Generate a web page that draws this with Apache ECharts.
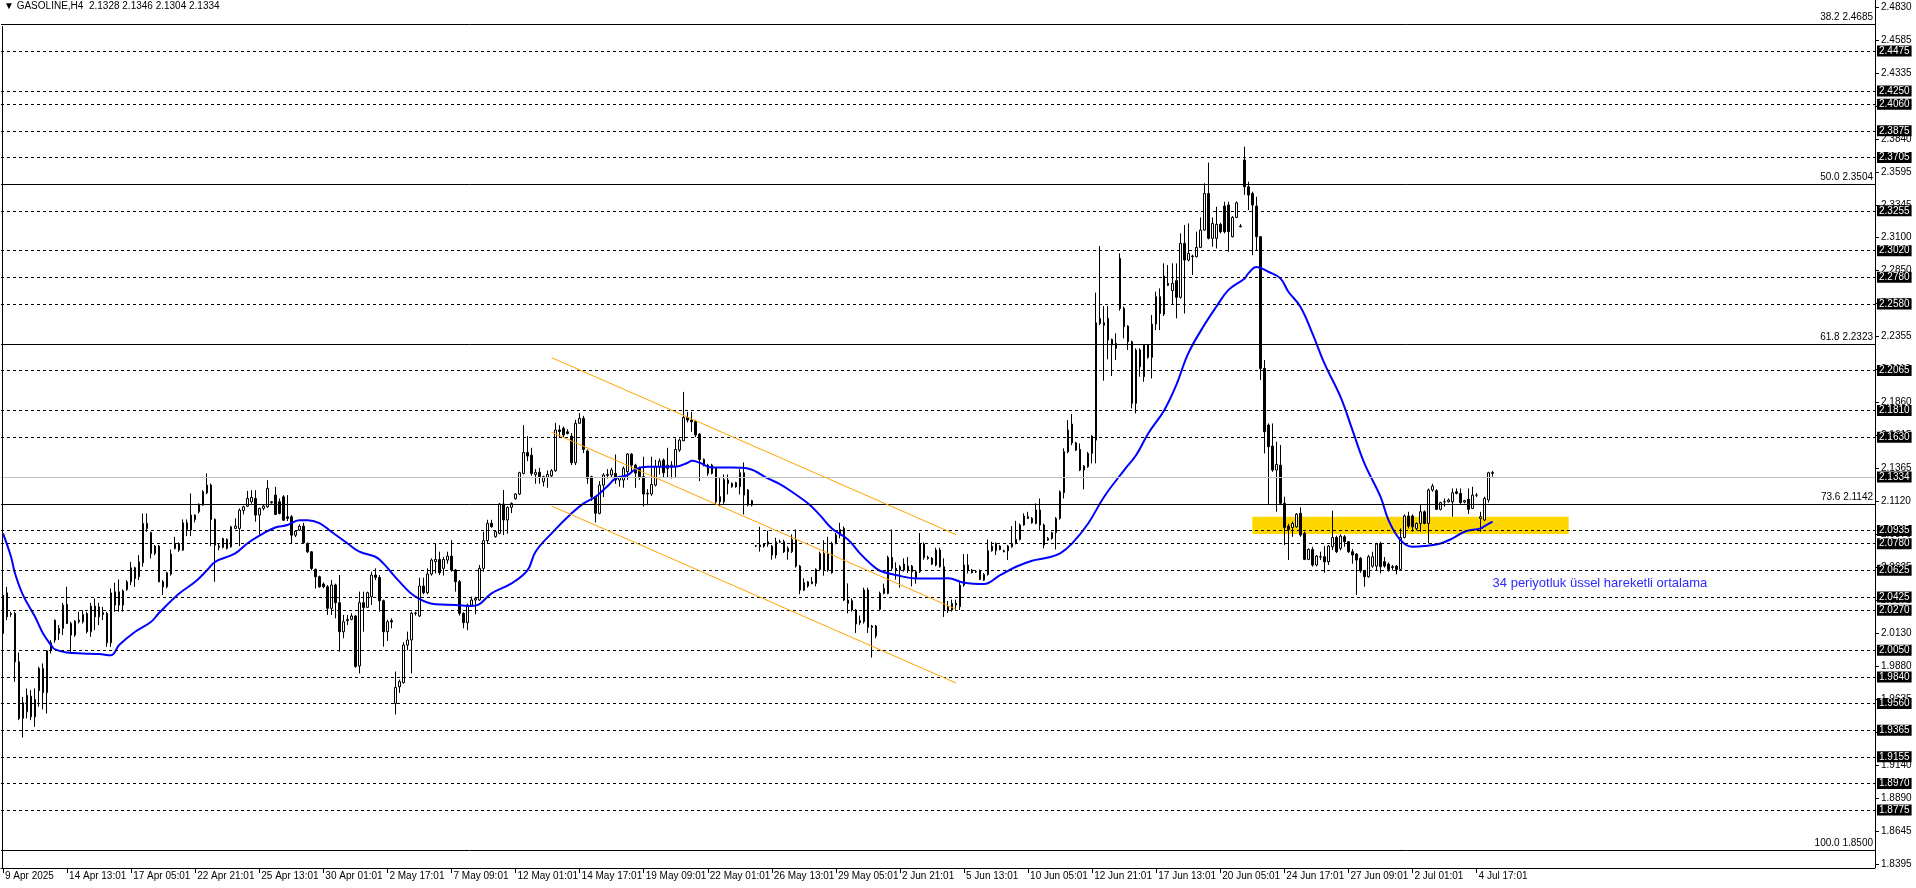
<!DOCTYPE html>
<html><head><meta charset="utf-8">
<script src="https://cdn.jsdelivr.net/npm/echarts@6/dist/echarts.min.js"></script>
<style>html,body{margin:0;padding:0;background:#fff;overflow:hidden}#c{width:1916px;height:888px}</style>
</head><body><div id="c"></div>
<script>
// [open, high, low, close] per H4 bar
const OHLC = [
[2.0126,2.0552,2.0101,2.0414],[2.0431,2.0476,2.0226,2.0251],[2.0269,2.0289,2.0251,2.0276],[2.0276,2.0289,1.9763,1.9913],
[1.9913,1.9983,1.9475,1.9488],[1.9488,1.9650,1.9345,1.9606],[1.9538,1.9713,1.9488,1.9662],[1.9655,1.9700,1.9475,1.9500],
[1.9500,1.9713,1.9425,1.9631],[1.9696,1.9876,1.9576,1.9863],[1.9681,1.9901,1.9556,1.9863],[1.9681,2.0001,1.9525,1.9996],
[2.0001,2.0076,1.9976,2.0056],[2.0076,2.0231,2.0056,2.0226],[2.0126,2.0189,2.0076,2.0164],[2.0164,2.0356,2.0114,2.0339],
[2.0344,2.0476,2.0196,2.0201],[2.0201,2.0214,1.9983,2.0114],[2.0114,2.0226,2.0101,2.0219],[2.0214,2.0289,2.0201,2.0226],
[2.0214,2.0300,2.0201,2.0269],[2.0276,2.0289,2.0126,2.0139],[2.0139,2.0356,2.0101,2.0331],[2.0331,2.0389,2.0151,2.0251],
[2.0251,2.0356,2.0189,2.0326],[2.0281,2.0326,2.0226,2.0269],[2.0276,2.0289,2.0026,2.0056],[2.0056,2.0464,2.0026,2.0431],
[2.0339,2.0507,2.0289,2.0439],[2.0439,2.0532,2.0289,2.0339],[2.0339,2.0456,2.0289,2.0446],[2.0456,2.0527,2.0446,2.0514],
[2.0514,2.0664,2.0489,2.0619],[2.0619,2.0627,2.0476,2.0539],[2.0552,2.0714,2.0527,2.0664],[2.0657,2.1027,2.0627,2.0952],
[2.0952,2.1027,2.0890,2.0915],[2.0884,2.0890,2.0689,2.0727],[2.0727,2.0790,2.0714,2.0782],[2.0782,2.0790,2.0510,2.0514],
[2.0514,2.0527,2.0414,2.0476],[2.0476,2.0590,2.0464,2.0582],[2.0572,2.0757,2.0560,2.0722],[2.0764,2.0852,2.0757,2.0802],
[2.0802,2.0810,2.0739,2.0752],[2.0752,2.0982,2.0745,2.0957],[2.0957,2.0982,2.0857,2.0907],[2.0902,2.1177,2.0857,2.1015],
[2.1015,2.1020,2.0960,2.0982],[2.1040,2.1102,2.1027,2.1097],[2.1090,2.1202,2.1085,2.1190],[2.1182,2.1328,2.1172,2.1240],
[2.1240,2.1252,2.0782,2.0982],[2.0982,2.0990,2.0514,2.0789],[2.0772,2.0800,2.0750,2.0782],[2.0772,2.0845,2.0765,2.0839],
[2.0832,2.0840,2.0757,2.0764],[2.0777,2.0935,2.0770,2.0927],[2.0915,2.0990,2.0910,2.0932],[2.0915,2.1065,2.0782,2.1052],
[2.1050,2.1085,2.1020,2.1077],[2.1082,2.1197,2.1075,2.1140],[2.1115,2.1202,2.1100,2.1147],[2.1140,2.1202,2.0965,2.1015],
[2.1015,2.1070,2.0870,2.1065],[2.1065,2.1090,2.1050,2.1082],[2.1077,2.1277,2.1070,2.1215],[2.1115,2.1120,2.1100,2.1108],
[2.1165,2.1227,2.1015,2.1020],[2.1115,2.1140,2.1020,2.1027],[2.1152,2.1165,2.0970,2.0977],[2.1002,2.1165,2.0970,2.0990],
[2.1002,2.1015,2.0797,2.0864],[2.0864,2.0900,2.0850,2.0894],[2.0902,2.0945,2.0895,2.0932],[2.0932,2.0957,2.0800,2.0807],
[2.0802,2.0810,2.0730,2.0739],[2.0739,2.0745,2.0600,2.0614],[2.0607,2.0614,2.0464,2.0552],[2.0552,2.0560,2.0470,2.0476],
[2.0497,2.0510,2.0465,2.0477],[2.0477,2.0490,2.0265,2.0315],[2.0315,2.0527,2.0265,2.0490],[2.0490,2.0500,2.0240,2.0357],
[2.0357,2.0565,1.9990,2.0139],[2.0139,2.0265,2.0090,2.0214],[2.0222,2.0265,2.0190,2.0232],[2.0232,2.0277,2.0225,2.0257],
[2.0257,2.0265,1.9870,1.9877],[1.9882,2.0440,1.9826,2.0357],[2.0357,2.0440,2.0140,2.0320],[2.0322,2.0440,2.0320,2.0432],
[2.0402,2.0590,2.0340,2.0565],[2.0565,2.0615,2.0527,2.0547],[2.0547,2.0565,2.0290,2.0372],[2.0372,2.0380,2.0027,2.0139],
[2.0139,2.0230,2.0070,2.0214],[2.0222,2.0240,2.0165,2.0212],[1.9601,1.9840,1.9518,1.9721],[1.9726,1.9780,1.9680,1.9764],
[1.9756,2.0060,1.9750,2.0039],[2.0039,2.0140,2.0000,2.0077],[2.0077,2.0290,1.9826,2.0277],[2.0280,2.0290,2.0260,2.0277],
[2.0257,2.0545,2.0250,2.0482],[2.0482,2.0545,2.0420,2.0432],[2.0432,2.0615,2.0420,2.0572],[2.0572,2.0690,2.0560,2.0677],
[2.0665,2.0802,2.0577,2.0682],[2.0682,2.0740,2.0565,2.0582],[2.0615,2.0700,2.0560,2.0682],[2.0677,2.0740,2.0650,2.0707],
[2.0707,2.0827,2.0590,2.0602],[2.0602,2.0610,2.0440,2.0515],[2.0515,2.0527,2.0260,2.0277],[2.0277,2.0285,2.0165,2.0207],
[2.0207,2.0350,2.0150,2.0340],[2.0340,2.0402,2.0327,2.0377],[2.0377,2.0402,2.0270,2.0390],[2.0377,2.0640,2.0370,2.0615],
[2.0615,2.0890,2.0590,2.0823],[2.0823,2.0980,2.0800,2.0953],[2.0953,2.0980,2.0920,2.0928],[2.0853,2.0900,2.0845,2.0890],
[2.0878,2.1105,2.0870,2.1098],[2.1098,2.1203,2.0865,2.0978],[2.0978,2.1080,2.0875,2.1073],[2.1073,2.1110,2.1030,2.1103],
[2.1138,2.1180,2.1130,2.1173],[2.1173,2.1340,2.1165,2.1333],[2.1328,2.1690,2.1320,2.1485],[2.1485,2.1608,2.1420,2.1458],
[2.1465,2.1520,2.1310,2.1328],[2.1320,2.1360,2.1250,2.1336],[2.1336,2.1370,2.1250,2.1303],[2.1266,2.1310,2.1230,2.1303],
[2.1298,2.1350,2.1220,2.1320],[2.1310,2.1360,2.1300,2.1348],[2.1348,2.1708,2.1340,2.1654],[2.1654,2.1690,2.1600,2.1642],
[2.1666,2.1680,2.1600,2.1616],[2.1640,2.1660,2.1620,2.1628],[2.1608,2.1630,2.1390,2.1408],[2.1408,2.1730,2.1390,2.1704],
[2.1704,2.1780,2.1700,2.1741],[2.1741,2.1760,2.1480,2.1508],[2.1496,2.1508,2.1250,2.1291],[2.1303,2.1310,2.1120,2.1153],
[2.1153,2.1160,2.0960,2.1028],[2.1028,2.1270,2.1020,2.1240],[2.1240,2.1330,2.1150,2.1316],[2.1320,2.1360,2.1290,2.1314],
[2.1316,2.1370,2.1300,2.1353],[2.1328,2.1470,2.1250,2.1278],[2.1278,2.1310,2.1228,2.1298],[2.1278,2.1380,2.1220,2.1366],
[2.1340,2.1480,2.1280,2.1473],[2.1473,2.1480,2.1330,2.1390],[2.1390,2.1400,2.1220,2.1330],[2.1365,2.1380,2.1280,2.1303],
[2.1303,2.1453,2.1080,2.1173],[2.1178,2.1210,2.1090,2.1173],[2.1173,2.1453,2.1160,2.1245],[2.1240,2.1430,2.1230,2.1378],
[2.1378,2.1440,2.1320,2.1420],[2.1428,2.1440,2.1300,2.1333],[2.1365,2.1520,2.1300,2.1390],[2.1378,2.1420,2.1290,2.1390],
[2.1378,2.1590,2.1300,2.1508],[2.1503,2.1590,2.1490,2.1578],[2.1573,2.1940,2.1570,2.1748],[2.1748,2.1790,2.1710,2.1728],
[2.1728,2.1790,2.1640,2.1716],[2.1716,2.1730,2.1600,2.1616],[2.1623,2.1630,2.1270,2.1433],[2.1433,2.1440,2.1380,2.1390],
[2.1390,2.1400,2.1310,2.1328],[2.1328,2.1400,2.1320,2.1390],[2.1365,2.1370,2.1090,2.1115],[2.1153,2.1300,2.1080,2.1115],
[2.1115,2.1320,2.1100,2.1283],[2.1278,2.1320,2.1170,2.1253],[2.1228,2.1260,2.1220,2.1253],[2.1258,2.1265,2.1220,2.1228],
[2.1228,2.1360,2.1170,2.1333],[2.1333,2.1410,2.1020,2.1165],[2.1203,2.1210,2.1080,2.1090],[2.1090,2.1130,2.1080,2.1123],
[2.0782,2.0790,2.0775,2.0785],[2.0790,2.0927,2.0740,2.0777],[2.0800,2.0805,2.0770,2.0782],[2.0797,2.0897,2.0777,2.0815],
[2.0782,2.0790,2.0680,2.0715],[2.0715,2.0845,2.0690,2.0815],[2.0815,2.0830,2.0805,2.0812],[2.0815,2.0830,2.0730,2.0740],
[2.0740,2.0780,2.0680,2.0765],[2.0740,2.0870,2.0730,2.0832],[2.0832,2.0907,2.0620,2.0632],[2.0632,2.0640,2.0420,2.0452],
[2.0452,2.0540,2.0445,2.0507],[2.0482,2.0520,2.0470,2.0514],[2.0514,2.0550,2.0495,2.0502],[2.0502,2.0615,2.0480,2.0607],
[2.0607,2.0740,2.0600,2.0727],[2.0602,2.0827,2.0560,2.0727],[2.0727,2.0852,2.0590,2.0602],[2.0582,2.0815,2.0575,2.0802],
[2.0802,2.0880,2.0795,2.0865],[2.0865,2.0957,2.0840,2.0907],[2.0915,2.0930,2.0370,2.0377],[2.0377,2.0502,2.0277,2.0352],
[2.0372,2.0390,2.0290,2.0302],[2.0302,2.0310,2.0130,2.0197],[2.0222,2.0260,2.0190,2.0207],[2.0214,2.0470,2.0200,2.0452],
[2.0452,2.0470,2.0130,2.0172],[2.0182,2.0190,1.9946,2.0172],[2.0182,2.0190,2.0090,2.0107],[2.0307,2.0440,2.0300,2.0427],
[2.0427,2.0500,2.0420,2.0464],[2.0427,2.0710,2.0420,2.0697],[2.0697,2.0907,2.0600,2.0615],[2.0615,2.0660,2.0530,2.0602],
[2.0602,2.0640,2.0470,2.0627],[2.0647,2.0690,2.0590,2.0602],[2.0602,2.0700,2.0580,2.0632],[2.0632,2.0640,2.0480,2.0590],
[2.0540,2.0600,2.0500,2.0590],[2.0590,2.0880,2.0580,2.0797],[2.0797,2.0810,2.0680,2.0697],[2.0697,2.0710,2.0680,2.0690],
[2.0690,2.0700,2.0640,2.0647],[2.0640,2.0770,2.0630,2.0752],[2.0752,2.0770,2.0620,2.0627],[2.0627,2.0690,2.0250,2.0297],
[2.0297,2.0370,2.0280,2.0327],[2.0302,2.0380,2.0290,2.0352],[2.0352,2.0380,2.0300,2.0340],[2.0327,2.0514,2.0302,2.0489],
[2.0489,2.0722,2.0477,2.0640],[2.0640,2.0722,2.0577,2.0602],[2.0602,2.0610,2.0577,2.0582],[2.0590,2.0600,2.0580,2.0588],
[2.0597,2.0605,2.0527,2.0532],[2.0527,2.0580,2.0520,2.0569],[2.0569,2.0832,2.0560,2.0747],[2.0747,2.0815,2.0740,2.0782],
[2.0747,2.0810,2.0715,2.0802],[2.0782,2.0790,2.0750,2.0757],[2.0747,2.0755,2.0735,2.0740],[2.0747,2.0790,2.0677,2.0782],
[2.0777,2.0932,2.0770,2.0802],[2.0802,2.0972,2.0795,2.0832],[2.0832,2.0952,2.0825,2.0940],[2.0940,2.1028,2.0935,2.1008],
[2.1003,2.1040,2.0985,2.0990],[2.0990,2.1000,2.0950,2.0958],[2.0952,2.1103,2.0945,2.1053],[2.1053,2.1140,2.0902,2.0940],
[2.0940,2.0950,2.0765,2.0790],[2.0827,2.0850,2.0820,2.0840],[2.0840,2.0890,2.0830,2.0882],[2.0882,2.1000,2.0757,2.0990],
[2.0990,2.1200,2.0980,2.1190],[2.1183,2.1516,2.1140,2.1491],[2.1491,2.1728,2.1480,2.1653],[2.1698,2.1773,2.1540,2.1558],
[2.1558,2.1565,2.1495,2.1503],[2.1508,2.1553,2.1345,2.1353],[2.1353,2.1390,2.1208,2.1383],[2.1378,2.1490,2.1370,2.1478],
[2.1478,2.1615,2.1403,2.1608],[2.1578,2.2685,2.1403,2.2459],[2.2454,2.3035,2.2442,2.2492],[2.2459,2.2584,2.2024,2.2440],
[2.2492,2.2584,2.2184,2.2329],[2.2334,2.2340,2.2059,2.2292],[2.2304,2.2379,2.2179,2.2267],[2.2942,2.2980,2.2550,2.2567],
[2.2567,2.2580,2.2342,2.2429],[2.2434,2.2440,2.2254,2.2317],[2.2317,2.2325,2.1816,2.1854],[2.1854,2.2267,2.1778,2.2254],
[2.2254,2.2267,2.2054,2.2129],[2.2054,2.2300,2.2016,2.2292],[2.2292,2.2300,2.2190,2.2199],[2.2199,2.2517,2.2041,2.2449],
[2.2449,2.2692,2.2404,2.2655],[2.2655,2.2717,2.2404,2.2529],[2.2524,2.2905,2.2510,2.2810],[2.2755,2.2892,2.2735,2.2740],
[2.2700,2.2905,2.2600,2.2755],[2.2775,2.2905,2.2492,2.2650],[2.2650,2.3130,2.2640,2.3055],[2.3055,2.3193,2.2529,2.2930],
[2.2930,2.3205,2.2920,2.2980],[2.2955,2.2970,2.2817,2.2960],[2.2955,2.3143,2.2950,2.3025],[2.3025,2.3250,2.3020,2.3155],
[2.3155,2.3506,2.3150,2.3430],[2.3430,2.3661,2.3085,2.3093],[2.3093,2.3250,2.3030,2.3205],[2.3093,2.3330,2.3017,2.3198],
[2.3198,2.3210,2.3130,2.3143],[2.3335,2.3368,2.3130,2.3143],[2.3343,2.3368,2.2992,2.3143],[2.3105,2.3260,2.3100,2.3250],
[2.3250,2.3370,2.3245,2.3360],[2.3180,2.3200,2.3175,2.3185],[2.3681,2.3781,2.3420,2.3480],[2.3480,2.3518,2.3305,2.3418],
[2.3430,2.3443,2.2967,2.3343],[2.3335,2.3405,2.3005,2.3105],[2.3105,2.3110,2.2029,2.2116],[2.2116,2.2179,2.1478,2.1641],
[2.1691,2.1703,2.1090,2.1528],[2.1533,2.1703,2.1340,2.1353],[2.1353,2.1566,2.1040,2.1395],[2.1390,2.1541,2.1090,2.1103],
[2.1103,2.1153,2.0790,2.0922],[2.0932,2.0950,2.0677,2.0907],[2.0922,2.0965,2.0852,2.0952],[2.0927,2.1030,2.0920,2.1022],
[2.1028,2.1073,2.0852,2.0865],[2.0877,2.0890,2.0677,2.0682],[2.0682,2.0765,2.0677,2.0757],[2.0757,2.0777,2.0627,2.0640],
[2.0640,2.0715,2.0630,2.0707],[2.0702,2.0740,2.0677,2.0700],[2.0702,2.0782,2.0582,2.0664],[2.0664,2.0790,2.0640,2.0782],
[2.0777,2.1048,2.0752,2.0847],[2.0847,2.0860,2.0730,2.0740],[2.0765,2.0870,2.0750,2.0857],[2.0852,2.0865,2.0777,2.0815],
[2.0815,2.0820,2.0730,2.0740],[2.0740,2.0760,2.0650,2.0715],[2.0722,2.0730,2.0414,2.0677],[2.0690,2.0700,2.0582,2.0597],
[2.0597,2.0600,2.0477,2.0552],[2.0552,2.0715,2.0545,2.0702],[2.0632,2.0740,2.0620,2.0702],[2.0632,2.0807,2.0602,2.0797],
[2.0802,2.0815,2.0577,2.0627],[2.0665,2.0700,2.0620,2.0632],[2.0647,2.0660,2.0590,2.0607],[2.0627,2.0640,2.0600,2.0622],
[2.0632,2.0640,2.0570,2.0607],[2.0607,2.0915,2.0602,2.0847],[2.0847,2.1020,2.0840,2.1008],[2.1008,2.1040,2.0915,2.0932],
[2.1008,2.1020,2.0890,2.0927],[2.0915,2.0960,2.0900,2.0952],[2.0952,2.1090,2.0890,2.1040],[2.1040,2.1050,2.0945,2.0952],
[2.0952,2.1215,2.0802,2.1203],[2.1203,2.1250,2.1190,2.1233],[2.1198,2.1210,2.1053,2.1058],[2.1058,2.1115,2.1050,2.1108],
[2.1115,2.1140,2.1078,2.1115],[2.1115,2.1140,2.1110,2.1128],[2.1115,2.1215,2.1003,2.1183],[2.1190,2.1215,2.1170,2.1178],
[2.1178,2.1215,2.1100,2.1108],[2.1113,2.1130,2.1103,2.1123],[2.1133,2.1215,2.1023,2.1058],[2.1065,2.1228,2.1060,2.1165],
[2.1165,2.1180,2.1150,2.1165],[2.0990,2.1040,2.0890,2.1003],[2.0978,2.1153,2.0970,2.1140],[2.1128,2.1340,2.1108,2.1333],
[2.1328,2.1346,2.1304,2.1334]
];
// EMA(34): [bar index, value]
const EMA34 = [
[0,2.0877],[2,2.0702],[3,2.0577],[5,2.0414],[8,2.0251],[10,2.0126],[12,2.0039],[13,2.0006],[16,1.9983],[20,1.9976],
[24,1.9971],[27,1.9963],[29,2.0039],[33,2.0139],[37,2.0214],[39,2.0281],[44,2.0426],[48,2.0514],[51,2.0602],[53,2.0664],
[58,2.0727],[61,2.0802],[65,2.0877],[68,2.0922],[71,2.0940],[74,2.0977],[76,2.0977],[79,2.0955],[82,2.0890],[86,2.0803],
[89,2.0740],[93,2.0702],[95,2.0652],[99,2.0515],[103,2.0402],[108,2.0345],[113,2.0340],[117,2.0332],[119,2.0347],[122,2.0427],
[127,2.0502],[131,2.0602],[133,2.0740],[137,2.0878],[142,2.1028],[145,2.1103],[148,2.1153],[151,2.1233],[153,2.1291],[156,2.1316],
[158,2.1360],[161,2.1378],[168,2.1378],[171,2.1408],[172,2.1423],[174,2.1408],[177,2.1373],[182,2.1373],[186,2.1365],[191,2.1290],
[194,2.1248],[197,2.1190],[201,2.1103],[204,2.1015],[207,2.0915],[211,2.0832],[214,2.0727],[217,2.0640],[219,2.0597],[223,2.0565],
[228,2.0539],[232,2.0539],[236,2.0540],[240,2.0507],[245,2.0497],[249,2.0564],[253,2.0627],[257,2.0672],[261,2.0697],[264,2.0727],
[267,2.0802],[271,2.0952],[275,2.1153],[280,2.1353],[283,2.1466],[286,2.1628],[290,2.1803],[293,2.1991],[296,2.2229],[300,2.2442],
[303,2.2579],[306,2.2704],[310,2.2790],[311,2.2830],[313,2.2878],[316,2.2842],[319,2.2792],[321,2.2692],[324,2.2579],[327,2.2379],
[330,2.2154],[334,2.1904],[337,2.1653],[340,2.1403],[344,2.1153],[346,2.0978],[349,2.0827],[352,2.0777],[355,2.0782],[359,2.0802],
[362,2.0840],[365,2.0890],[369,2.0915],[370,2.0932],[372,2.0965]
];
const X_TICKS = [[0,'9 Apr 2025'],[16,'14 Apr 13:01'],[32,'17 Apr 05:01'],[48,'22 Apr 21:01'],[64,'25 Apr 13:01'],
[80,'30 Apr 01:01'],[96,'2 May 17:01'],[112,'7 May 09:01'],[128,'12 May 01:01'],[144,'14 May 17:01'],[160,'19 May 09:01'],
[176,'22 May 01:01'],[192,'26 May 13:01'],[208,'29 May 05:01'],[224,'2 Jun 21:01'],[240,'5 Jun 13:01'],[256,'10 Jun 05:01'],
[272,'12 Jun 21:01'],[288,'17 Jun 13:01'],[304,'20 Jun 05:01'],[320,'24 Jun 17:01'],[336,'27 Jun 09:01'],[352,'2 Jul 01:01'],
[368,'4 Jul 17:01']];
const Y_TICK_LABELS = ['1.8395','1.8645','1.8890','1.9140','1.9390','1.9635','1.9880','2.0130','2.0375','2.0625','2.0870',
'2.1120','2.1365','2.1615','2.1860','2.2110','2.2355','2.2605','2.2850','2.3100','2.3345','2.3595','2.3840','2.4090',
'2.4335','2.4585','2.4830'];
const Y_MIN = 1.8395, Y_MAX = 2.4830, Y_STEP = 0.02475;
const H_LEVELS = ['2.4475','2.4250','2.4060','2.3875','2.3705','2.3255','2.3020','2.2780','2.2580','2.2065','2.1810',
'2.1630','2.0935','2.0780','2.0625','2.0425','2.0270','2.0050','1.9840','1.9560','1.9365','1.9155','1.8970','1.8775'];
const FIB_LEVELS = [['38.2','2.4685'],['50.0','2.3504'],['61.8','2.2323'],['73.6','2.1142'],['100.0','1.8500']];
const BID = '2.1334';
// channel trendlines: [startBar, startPrice, endBar, endPrice]
const CHANNEL = [[137,2.2197,238,2.0868],[137,2.1637,238,2.0308],[137,2.1083,238,1.9754]];
// zone rectangle: [fromBar, toBar, topPrice, bottomPrice]
const ZONE = [312,391,2.1002,2.0872];
const NOTE = [372,2.0504,'34 periyotluk üssel hareketli ortalama'];
const HEADER = 'GASOLINE,H4  2.1328 2.1346 2.1304 2.1334';
const N_SLOTS = 468;

const FONT = '"Liberation Sans", Arial, sans-serif';
const xCats = Array.from({length: N_SLOTS}, (_, i) => String(i));
const tickMap = {};
X_TICKS.forEach(([i, s]) => { tickMap[i] = s; });
const candleData = OHLC.map(([o, h, l, c]) => [o, c, l, h]);
const boxLabel = (txt) => ({show: true, position: 'end', distance: 2, formatter: txt, color: '#fff',
  backgroundColor: '#000', padding: [1, 2, 0, 2], lineHeight: 10, fontSize: 10, fontFamily: FONT});

const chart = echarts.init(document.getElementById('c'), null, {renderer: 'canvas'});
chart.setOption({
  animation: false,
  backgroundColor: '#fff',
  grid: {left: 1, right: 41, top: 7, bottom: 24, containLabel: false},
  xAxis: {
    type: 'category', data: xCats, boundaryGap: true, position: 'bottom', offset: 4,
    axisLine: {show: true, lineStyle: {color: '#000', width: 1}},
    axisTick: {show: true, alignWithLabel: true, length: 5, lineStyle: {color: '#000'},
      interval: (idx) => tickMap[idx] !== undefined},
    axisLabel: {show: true, interval: (idx) => tickMap[idx] !== undefined,
      formatter: (v, idx) => tickMap[idx] || '', align: 'left', margin: 3, padding: [0, 0, 0, 2],
      color: '#000', fontSize: 10, fontFamily: FONT},
    splitLine: {show: false}
  },
  yAxis: {
    type: 'value', position: 'right', min: Y_MIN, max: Y_MAX, interval: Y_STEP, scale: true,
    axisLine: {show: true, lineStyle: {color: '#000', width: 1}},
    axisTick: {show: true, length: 4, lineStyle: {color: '#000'}},
    axisLabel: {show: true, margin: 6, color: '#000', fontSize: 10, fontFamily: FONT,
      formatter: (v) => Y_TICK_LABELS[Math.round((v - Y_MIN) / Y_STEP)] || ''},
    splitLine: {show: false}
  },
  graphic: [
    {type: 'line', shape: {x1: 1875.5, y1: 0, x2: 1875.5, y2: 868}, style: {stroke: '#000', lineWidth: 1}, z: 10},
    {type: 'line', shape: {x1: 2.5, y1: 26, x2: 2.5, y2: 868}, style: {stroke: '#000', lineWidth: 1}, z: 10},
    {type: 'text', left: 4, top: 1, z: 10,
      style: {text: '\u25BC ' + HEADER, fill: '#000', font: '10px ' + FONT}}
  ],
  series: [
    {
      name: 'zone', type: 'line', data: [], z: 1, silent: true,
      markArea: {silent: true, itemStyle: {color: '#FFD700', opacity: 1},
        data: [[{coord: [ZONE[0], ZONE[2]]}, {coord: [ZONE[1], ZONE[3]]}]]}
    },
    {
      name: 'GASOLINE', type: 'candlestick', data: candleData, z: 3, barWidth: 2,
      itemStyle: {color: '#fff', color0: '#000', borderColor: '#000', borderColor0: '#000',
        borderColorDoji: '#000', borderWidth: 1}
    },
    {
      name: 'EMA34', type: 'line', data: EMA34, z: 4, smooth: 0.4, showSymbol: false, symbol: 'none',
      lineStyle: {color: '#0000FF', width: 2}, silent: true,
      markPoint: {silent: true, symbol: 'circle', symbolSize: 0,
        data: [{coord: [NOTE[0], NOTE[1]], label: {show: true, position: 'right', distance: 0,
          formatter: NOTE[2], color: '#2B2BFF', fontSize: 13, fontFamily: FONT}}]}
    },
    {
      name: 'levels', type: 'line', data: [], zlevel: 1, z: 5, silent: true,
      markLine: {
        silent: true, symbol: ['none', 'none'], animation: false,
        data: [
          ...H_LEVELS.map(v => ({yAxis: +v, lineStyle: {color: '#000', type: [3, 3], width: 1},
            label: boxLabel(v)})),
          ...FIB_LEVELS.map(([p, v]) => ({yAxis: +v, lineStyle: {color: '#000', type: 'solid', width: 1},
            label: {show: true, position: 'insideEndTop', distance: 2, formatter: p + ' ' + v, color: '#000',
              fontSize: 10, fontFamily: FONT}})),
          {yAxis: +BID, lineStyle: {color: '#C0C0C0', type: 'solid', width: 1}, label: boxLabel(BID)},
          ...CHANNEL.map(([i0, p0, i1, p1]) => [
            {coord: [i0, p0], lineStyle: {color: '#FFA500', type: 'solid', width: 1}, label: {show: false}},
            {coord: [i1, p1]}])
        ]
      }
    }
  ]
});
</script>
</body></html>
